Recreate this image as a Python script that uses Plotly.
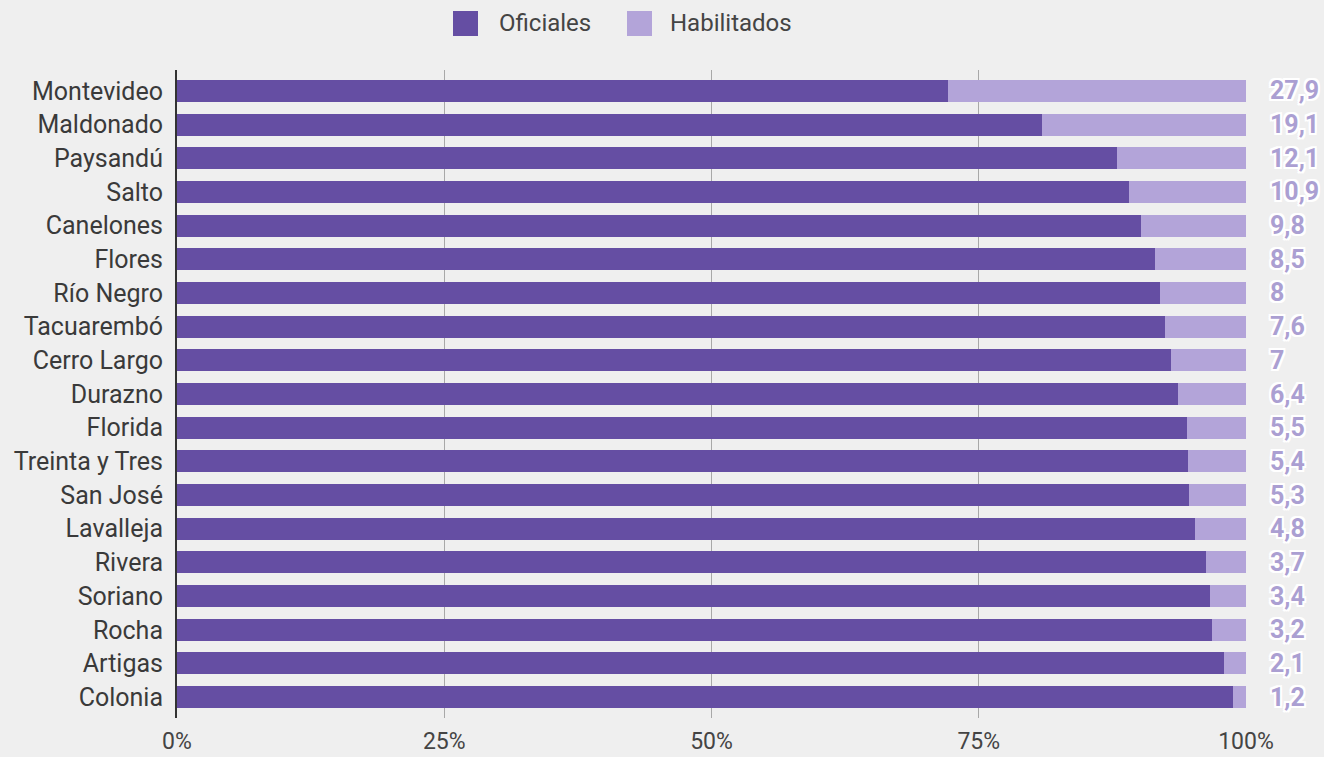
import plotly.graph_objects as go

departamentos = ["Montevideo", "Maldonado", "Paysandú", "Salto", "Canelones", "Flores",
                 "Río Negro", "Tacuarembó", "Cerro Largo", "Durazno", "Florida",
                 "Treinta y Tres", "San José", "Lavalleja", "Rivera", "Soriano",
                 "Rocha", "Artigas", "Colonia"]
habilitados = [27.9, 19.1, 12.1, 10.9, 9.8, 8.5, 8, 7.6, 7, 6.4, 5.5, 5.4, 5.3,
               4.8, 3.7, 3.4, 3.2, 2.1, 1.2]
oficiales = [round(100 - h, 1) for h in habilitados]
x_ticks = [0, 25, 50, 75, 100]

DARK = "#654ea3"
LIGHT = "#b3a4d9"
# white outline around the value labels
outline = ",".join(f"{dx}px {dy}px 0 #ffffff" for dx in (-2, 0, 2) for dy in (-2, 0, 2))

W, H = 1324, 757
plot_l, plot_r, plot_t, plot_b = 177, 1246, 70, 718


def px_x(px):
    return (px - plot_l) / (plot_r - plot_l)


def px_y(py):
    return (plot_b - py) / (plot_b - plot_t)


fig = go.Figure()
fig.add_trace(go.Bar(y=departamentos, x=oficiales, name="Oficiales", orientation="h",
                     marker=dict(color=DARK, line=dict(width=0)), width=0.65))
fig.add_trace(go.Bar(y=departamentos, x=habilitados, name="Habilitados", orientation="h",
                     marker=dict(color=LIGHT, line=dict(width=0)), width=0.65))

# value labels right of the 100% line
for dep, h in zip(departamentos, habilitados):
    fig.add_annotation(x=100, y=dep, xref="x", yref="y", text=f"{h:g}".replace(".", ","),
                       showarrow=False, xanchor="left", xshift=22,
                       font=dict(family="Roboto", size=25, color="#ab9fd2",
                                 weight="bold", shadow=outline))

# legend drawn by hand so the swatches can be as large as the original
legend_items = [("Oficiales", DARK, 453, 497), ("Habilitados", LIGHT, 627, 668)]
for name, col, sx, tx in legend_items:
    fig.add_shape(type="rect", xref="paper", yref="paper",
                  x0=px_x(sx), x1=px_x(sx + 25), y0=px_y(36), y1=px_y(11),
                  fillcolor=col, line=dict(width=0))
    fig.add_annotation(x=px_x(tx), y=px_y(23), xref="paper", yref="paper", text=name,
                       showarrow=False, xanchor="left", yanchor="middle",
                       font=dict(family="Roboto", size=24, color="#444444"))

fig.update_layout(
    barmode="stack",
    width=W, height=H,
    paper_bgcolor="#efefef", plot_bgcolor="#efefef",
    margin=dict(l=plot_l, r=W - plot_r, t=plot_t, b=H - plot_b),
    font=dict(family="Roboto", size=20, color="#444444"),
    showlegend=False,
)
fig.update_xaxes(range=[0, 100], tickvals=x_ticks, ticktext=[f"{t}%" for t in x_ticks],
                 showgrid=True, gridcolor="#a8a8a8", gridwidth=1, zeroline=False,
                 ticks="", ticklabelstandoff=7, automargin=False,
                 tickfont=dict(size=23, color="#444444"))
fig.update_yaxes(showline=True, linecolor="#333333", linewidth=2,
                 ticks="", ticklabelstandoff=7, showgrid=False, automargin=False,
                 tickfont=dict(size=25, color="#3a3a3a"), range=[18.62, -0.62])

fig.write_html("out.html", config={"displayModeBar": False},
               post_script="document.body.style.margin='0';")
